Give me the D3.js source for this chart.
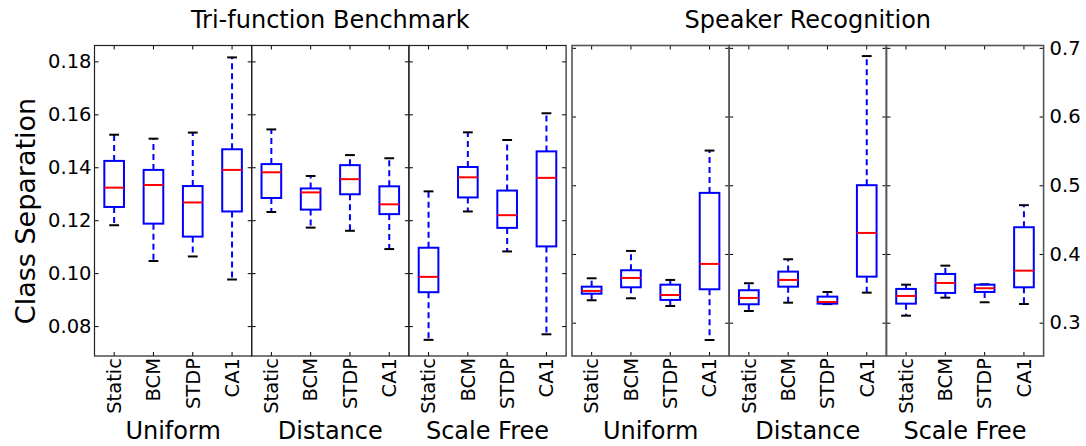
<!DOCTYPE html>
<html>
<head>
<meta charset="utf-8">
<script src="https://cdn.jsdelivr.net/npm/d3@7"></script>
<style>
  body { margin: 0; background: #fff; }
  svg { display: block; font-family: "DejaVu Sans", sans-serif; }
</style>
</head>
<body>
<svg id="chart" width="1086" height="446"></svg>
<script>
const rules = ["Static", "BCM", "STDP", "CA1"];
const topologies = ["Uniform", "Distance", "Scale Free"];
const tasks = ["Tri-function Benchmark", "Speaker Recognition"];
const leftTicks = [0.08, 0.10, 0.12, 0.14, 0.16, 0.18];
const rightTicks = [0.3, 0.4, 0.5, 0.6, 0.7];

// each box: [low whisker, q1, median, q3, high whisker], one per rule
const triUniform = [
    [0.1181, 0.1250, 0.1323, 0.1424, 0.1523],
    [0.1046, 0.1187, 0.1333, 0.1390, 0.1508],
    [0.1063, 0.1138, 0.1267, 0.1329, 0.1531],
    [0.0976, 0.1233, 0.1390, 0.1468, 0.1815]
];
const triDistance = [
    [0.1231, 0.1284, 0.1381, 0.1412, 0.1543],
    [0.1172, 0.1240, 0.1305, 0.1320, 0.1367],
    [0.1160, 0.1298, 0.1355, 0.1408, 0.1446],
    [0.1091, 0.1223, 0.1260, 0.1328, 0.1434]
];
const triScaleFree = [
    [0.0748, 0.0928, 0.0986, 0.1096, 0.1309],
    [0.1233, 0.1286, 0.1362, 0.1401, 0.1532],
    [0.1082, 0.1171, 0.1219, 0.1312, 0.1503],
    [0.0769, 0.1101, 0.1360, 0.1460, 0.1604]
];
const spkUniform = [
    [0.3326, 0.3422, 0.3462, 0.3524, 0.3646],
    [0.3355, 0.3515, 0.3651, 0.3763, 0.4044],
    [0.3243, 0.3331, 0.3403, 0.3553, 0.3622],
    [0.2748, 0.3486, 0.3855, 0.4889, 0.5505]
];
const spkDistance = [
    [0.3170, 0.3268, 0.3360, 0.3472, 0.3574],
    [0.3291, 0.3524, 0.3622, 0.3743, 0.3923],
    [0.3270, 0.3277, 0.3301, 0.3379, 0.3447],
    [0.3437, 0.3670, 0.4306, 0.5001, 0.6880]
];
const spkScaleFree = [
    [0.3102, 0.3277, 0.3389, 0.3491, 0.3553],
    [0.3364, 0.3433, 0.3578, 0.3709, 0.3830],
    [0.3297, 0.3447, 0.3501, 0.3553, 0.3559],
    [0.3272, 0.3515, 0.3757, 0.4389, 0.4710]
];

const svg = d3.select("#chart");
const plotTop = 45.5, plotBottom = 356;
const groupX = [94.5, 572];
const panelW = 157.2;
const tickFont = "19.5px";

const yLeft = d3.scaleLinear().domain([0.0687, 0.186]).range([plotBottom, plotTop]);
const yRight = d3.scaleLinear().domain([0.2515, 0.7034]).range([plotBottom, plotTop]);

const panels = [
    { task: 0, topo: 0, data: triUniform },
    { task: 0, topo: 1, data: triDistance },
    { task: 0, topo: 2, data: triScaleFree },
    { task: 1, topo: 0, data: spkUniform },
    { task: 1, topo: 1, data: spkDistance },
    { task: 1, topo: 2, data: spkScaleFree }
];

panels.forEach(function (p) {
    const x0 = groupX[p.task] + p.topo * panelW;
    const y = p.task === 0 ? yLeft : yRight;
    const ticks = p.task === 0 ? leftTicks : rightTicks;
    const x = d3.scaleBand().domain(rules).range([x0, x0 + panelW])
        .paddingInner(0.5).paddingOuter(0.25);
    const bw = x.bandwidth();
    const g = svg.append("g");

    // boxes
    const box = g.selectAll(".box").data(p.data).enter().append("g")
        .attr("class", "box");
    const cx = (d, i) => x(rules[i]) + bw / 2;

    box.append("line")
        .attr("x1", cx).attr("x2", cx)
        .attr("y1", d => y(d[1])).attr("y2", d => y(d[0]))
        .attr("stroke", "#0000ff").attr("stroke-width", 2)
        .attr("stroke-dasharray", "6,4");
    box.append("line")
        .attr("x1", cx).attr("x2", cx)
        .attr("y1", d => y(d[3])).attr("y2", d => y(d[4]))
        .attr("stroke", "#0000ff").attr("stroke-width", 2)
        .attr("stroke-dasharray", "6,4");
    [0, 4].forEach(function (k) {
        box.append("line")
            .attr("x1", (d, i) => cx(d, i) - bw / 4)
            .attr("x2", (d, i) => cx(d, i) + bw / 4)
            .attr("y1", d => y(d[k])).attr("y2", d => y(d[k]))
            .attr("stroke", "#000").attr("stroke-width", 2);
    });
    box.append("rect")
        .attr("x", (d, i) => x(rules[i]))
        .attr("y", d => y(d[3]))
        .attr("width", bw)
        .attr("height", d => y(d[1]) - y(d[3]))
        .attr("fill", "none")
        .attr("stroke", "#0000ff").attr("stroke-width", 2);
    box.append("line")
        .attr("x1", (d, i) => x(rules[i])).attr("x2", (d, i) => x(rules[i]) + bw)
        .attr("y1", d => y(d[2])).attr("y2", d => y(d[2]))
        .attr("stroke", "#ff0000").attr("stroke-width", 2);

    // axes with inward ticks
    const bottomAxis = g.append("g")
        .attr("transform", "translate(0," + plotBottom + ")")
        .call(d3.axisBottom(x).tickSize(-4).tickPadding(3));
    bottomAxis.selectAll("text")
        .attr("transform", "rotate(-90)")
        .attr("x", -2).attr("y", 0).attr("dy", "0.35em")
        .attr("text-anchor", "end");

    g.append("g")
        .attr("transform", "translate(0," + plotTop + ")")
        .call(d3.axisTop(x).tickSize(-4).tickFormat(""));

    const leftAxis = g.append("g")
        .attr("transform", "translate(" + x0 + ",0)")
        .call(d3.axisLeft(y).tickValues(ticks).tickSize(-4).tickPadding(3)
            .tickFormat(d3.format(".2f")));
    if (!(p.task === 0 && p.topo === 0)) leftAxis.selectAll("text").remove();

    const rightAxis = g.append("g")
        .attr("transform", "translate(" + (x0 + panelW) + ",0)")
        .call(d3.axisRight(y).tickValues(ticks).tickSize(-4).tickPadding(6)
            .tickFormat(d3.format(".1f")));
    if (!(p.task === 1 && p.topo === 2)) rightAxis.selectAll("text").remove();

    g.selectAll(".domain").remove();
    g.selectAll(".tick line").attr("stroke", "#000").attr("stroke-width", 1);
    g.selectAll(".tick text")
        .attr("font-size", tickFont).attr("font-family", "DejaVu Sans")
        .attr("fill", "#000");

    g.append("rect")
        .attr("x", x0).attr("y", plotTop)
        .attr("width", panelW).attr("height", plotBottom - plotTop)
        .attr("fill", "none")
        .attr("stroke", p.task === 0 ? "#222" : "#555")
        .attr("stroke-width", p.task === 0 ? 1.2 : 1.6);

    svg.append("text")
        .attr("x", x0 + panelW / 2)
        .attr("y", 439)
        .attr("text-anchor", "middle")
        .attr("font-size", "24px")
        .text(topologies[p.topo]);
});

tasks.forEach(function (t, i) {
    svg.append("text")
        .attr("x", groupX[i] + panelW * 1.5)
        .attr("y", 28)
        .attr("text-anchor", "middle")
        .attr("font-size", "24px")
        .text(t);
});

svg.append("text")
    .attr("transform", "translate(35,211) rotate(-90)")
    .attr("text-anchor", "middle")
    .attr("font-size", "27px")
    .text("Class Separation");
</script>
</body>
</html>
